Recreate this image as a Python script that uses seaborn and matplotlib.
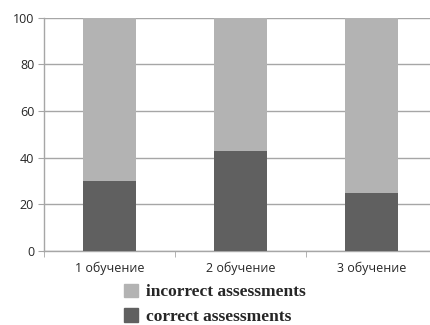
import pandas as pd
import matplotlib.pyplot as plt
import seaborn as sns
from matplotlib.patches import Patch

# Values
trainings = ["1 обучение", "2 обучение", "3 обучение"]
correct = [30, 43, 25]
incorrect = [70, 57, 75]

df = pd.DataFrame({"training": trainings, "correct": correct, "incorrect": incorrect})
df["total"] = df["correct"] + df["incorrect"]

light = "#b3b3b3"
dark = "#606060"
grid_col = "#a6a6a6"

sns.set_style("white")
plt.rcParams["font.family"] = ["Open Sans", "DejaVu Sans"]

fig = plt.figure(figsize=(4.3, 3.25), dpi=100)
ax = fig.add_axes([0.102, 0.228, 0.914, 0.717])

# stacked bars: total in light grey, correct part in dark grey on top of it
sns.barplot(data=df, x="training", y="total", color=light, width=0.4, saturation=1,
            linewidth=0, ax=ax, zorder=2)
sns.barplot(data=df, x="training", y="correct", color=dark, width=0.4, saturation=1,
            linewidth=0, ax=ax, zorder=3)

ax.set_ylim(0, 100)
ax.set_xlim(-0.5, 2.5)
ax.set_yticks([0, 20, 40, 60, 80, 100])
ax.yaxis.grid(True, color=grid_col, linewidth=1)
ax.set_axisbelow(True)
ax.set_xlabel("")
ax.set_ylabel("")

for s in ["top", "right"]:
    ax.spines[s].set_visible(False)
for s in ["left", "bottom"]:
    ax.spines[s].set_color(grid_col)
    ax.spines[s].set_linewidth(1)

ax.tick_params(axis="y", length=4, color=grid_col, labelsize=9, pad=3, left=True)
ax.tick_params(axis="x", length=0, labelsize=9, pad=8)
ax.set_xticks([-0.5, 0.5, 1.5, 2.5], minor=True)
ax.tick_params(axis="x", which="minor", length=4, color=grid_col, bottom=True)

handles = [Patch(color=light, label="incorrect assessments"),
           Patch(color=dark, label="correct assessments")]
fig.legend(handles=handles, loc="upper center", bbox_to_anchor=(0.5, 0.175),
           frameon=False, handlelength=0.8, handleheight=0.8, handletextpad=0.5,
           labelspacing=0.45,
           prop={"family": "Liberation Serif", "weight": "bold", "size": 12.5})

fig.savefig("out.png", dpi=100)
